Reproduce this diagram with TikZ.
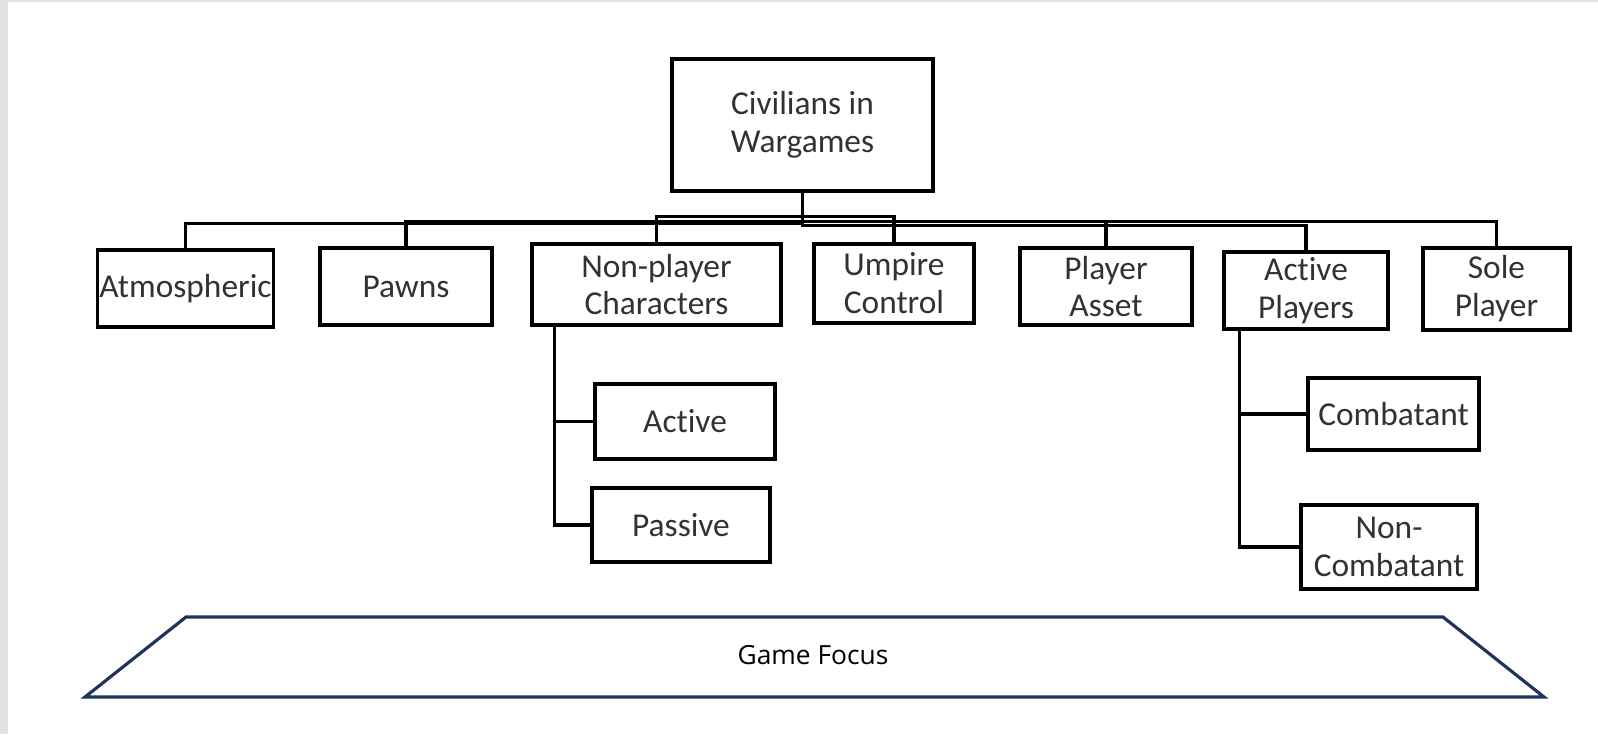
\documentclass[tikz,border=0pt]{standalone}
\usepackage{fontspec}
\usepackage{xcolor}
\usepackage{tikz}
\usetikzlibrary{positioning, calc}
\newfontfamily\boxfont[Ligatures={NoCommon}]{Carlito}
\newfontfamily\basefont{Open Sans}
\definecolor{edgegray}{RGB}{226, 226, 226}
\definecolor{inkgray}{RGB}{50, 50, 50}
\definecolor{navy}{RGB}{30, 52, 92}

\begin{document}
\begin{tikzpicture}[
    box/.style={rectangle, draw=black, line width=1.9pt, fill=white, inner sep=1pt, align=center, text=inkgray, font={\boxfont\fontsize{19}{21.6}\selectfont}},
    link/.style={draw=black, line width=1.9pt},
    base/.style={draw=navy, line width=1.8pt, line join=miter}
]
    % Page
    \fill[edgegray] (0,0) rectangle (31.96,-14.68);
    \fill[white] (0.16,-0.04) rectangle (31.96,-14.68);
    \useasboundingbox (0,0) rectangle (31.96,-14.68);

    % Root
    \node (root) [box, minimum width=5.22cm, minimum height=2.64cm] at (16.05,-2.50) {Civilians in\\Wargames};

    % First level
    \node (atmo) [box, minimum width=3.46cm, minimum height=1.54cm] at (3.71,-5.77) {Atmospheric};
    \node (pawns) [box, minimum width=3.44cm, minimum height=1.54cm] at (8.12,-5.73) {Pawns};
    \node (npc) [box, minimum width=4.98cm, minimum height=1.62cm] at (13.13,-5.69) {Non-player\\Characters};
    \node (umpire) [box, minimum width=3.20cm, minimum height=1.58cm] at (17.88,-5.67) {Umpire\\Control};
    \node (asset) [box, minimum width=3.44cm, minimum height=1.54cm] at (22.12,-5.73) {Player\\Asset};
    \node (actp) [box, minimum width=3.28cm, minimum height=1.54cm] at (26.12,-5.81) {Active\\Players};
    \node (sole) [box, minimum width=2.94cm, minimum height=1.64cm] at (29.93,-5.78) {Sole\\Player};

    % Second level
    \node (active) [box, minimum width=3.60cm, minimum height=1.50cm] at (13.70,-8.43) {Active};
    \node (passive) [box, minimum width=3.56cm, minimum height=1.48cm] at (13.62,-10.50) {Passive};
    \node (comb) [box, minimum width=3.42cm, minimum height=1.44cm] at (27.87,-8.28) {Combatant};
    \node (noncomb) [box, minimum width=3.52cm, minimum height=1.68cm] at (27.78,-10.94) {Non-\\Combatant};

    % Connections
    \draw [link] (root.south) -- ++(0,-0.62) -| (atmo.north);
    \draw [link] (root.south) -- ++(0,-0.58) -| (pawns.north);
    \draw [link] (root.south) -- ++(0,-0.48) -| (npc.north);
    \draw [link] (root.south) -- ++(0,-0.48) -| (umpire.north);
    \draw [link] (root.south) -- ++(0,-0.58) -| (asset.north);
    \draw [link] (root.south) -- ++(0,-0.66) -| (actp.north);
    \draw [link] (root.south) -- ++(0,-0.58) -| (sole.north);

    \draw [link] ([xshift=0.48cm]npc.south west) |- (active.west);
    \draw [link] ([xshift=0.48cm]npc.south west) |- (passive.west);
    \draw [link] ([xshift=0.34cm]actp.south west) |- (comb.west);
    \draw [link] ([xshift=0.34cm]actp.south west) |- (noncomb.west);

    % Base
    \draw [base] (1.70,-13.94) -- (3.72,-12.34) -- (28.86,-12.34) -- (30.88,-13.94) -- cycle;
    \node (focus) [font={\basefont\fontsize{15}{18}\selectfont}, text=black] at (16.26,-13.10) {Game Focus};
\end{tikzpicture}
\end{document}
